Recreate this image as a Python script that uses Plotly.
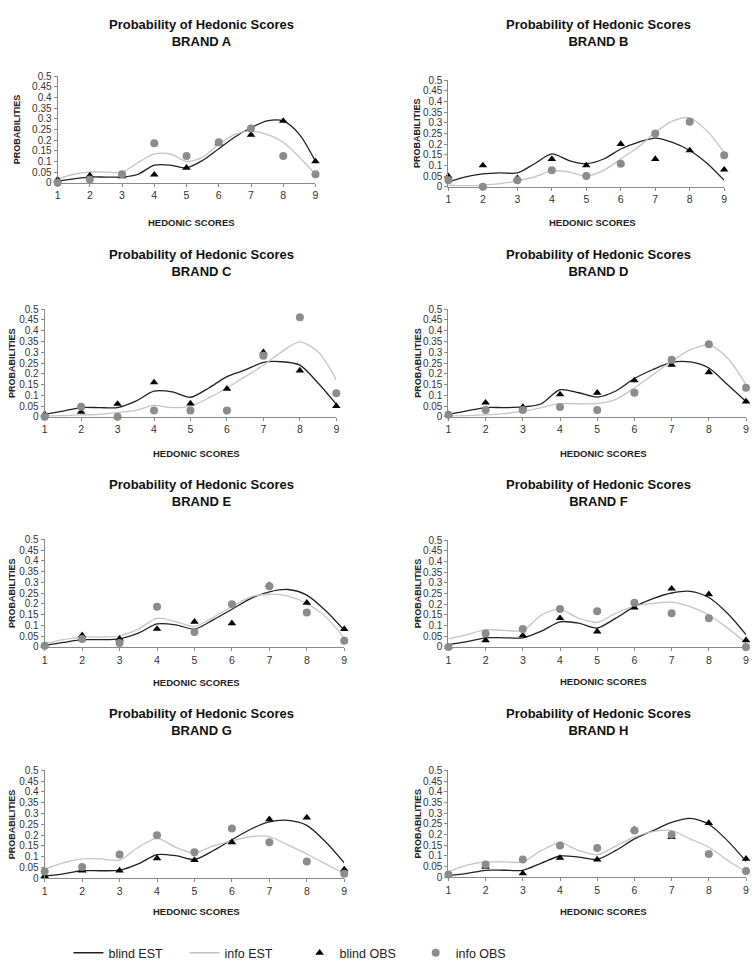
import plotly.graph_objects as go

W, H = 752, 971
scores = [1, 2, 3, 4, 5, 6, 7, 8, 9]
est_x = [1, 1.5, 2, 2.5, 3, 3.5, 4, 4.5, 5, 5.5, 6, 6.5, 7, 7.5, 8, 8.5, 9]
brands = ["A", "B", "C", "D", "E", "F", "G", "H"]

blind_obs_A = [0.015, 0.034, 0.03, 0.038, 0.07, 0.185, 0.225, 0.29, 0.10]
info_obs_A = [0.0, 0.015, 0.04, 0.185, 0.125, 0.19, 0.255, 0.125, 0.04]
blind_est_A = [0.008, 0.018, 0.027, 0.027, 0.027, 0.04, 0.083, 0.083, 0.07, 0.105, 0.16, 0.215, 0.258, 0.29, 0.29, 0.227, 0.10]
info_est_A = [0.018, 0.04, 0.05, 0.05, 0.05, 0.095, 0.135, 0.135, 0.10, 0.12, 0.18, 0.227, 0.242, 0.227, 0.19, 0.12, 0.04]

blind_obs_B = [0.049, 0.10, 0.04, 0.13, 0.10, 0.20, 0.13, 0.17, 0.08]
info_obs_B = [0.03, 0.0, 0.03, 0.077, 0.05, 0.108, 0.25, 0.305, 0.148]
blind_est_B = [0.023, 0.046, 0.06, 0.065, 0.065, 0.108, 0.154, 0.123, 0.108, 0.13, 0.177, 0.208, 0.228, 0.208, 0.17, 0.11, 0.03]
info_est_B = [0.008, 0.005, 0.008, 0.015, 0.028, 0.046, 0.074, 0.069, 0.05, 0.077, 0.13, 0.185, 0.254, 0.308, 0.323, 0.262, 0.16]

blind_obs_C = [0.012, 0.023, 0.06, 0.16, 0.062, 0.13, 0.30, 0.215, 0.05]
info_obs_C = [0.0, 0.047, 0.0, 0.03, 0.03, 0.03, 0.284, 0.463, 0.11]
blind_est_C = [0.012, 0.027, 0.043, 0.043, 0.043, 0.073, 0.119, 0.116, 0.091, 0.134, 0.187, 0.218, 0.253, 0.256, 0.24, 0.157, 0.058]
info_est_C = [0.005, 0.006, 0.009, 0.012, 0.02, 0.03, 0.053, 0.043, 0.05, 0.088, 0.134, 0.187, 0.24, 0.302, 0.348, 0.302, 0.172]

blind_obs_D = [0.012, 0.066, 0.046, 0.104, 0.112, 0.169, 0.242, 0.207, 0.071]
info_obs_D = [0.01, 0.032, 0.032, 0.046, 0.032, 0.112, 0.265, 0.337, 0.135]
blind_est_D = [0.012, 0.028, 0.043, 0.043, 0.046, 0.061, 0.126, 0.112, 0.092, 0.12, 0.178, 0.22, 0.253, 0.255, 0.227, 0.15, 0.071]
info_est_D = [0.005, 0.006, 0.009, 0.015, 0.025, 0.043, 0.061, 0.061, 0.061, 0.081, 0.135, 0.196, 0.258, 0.311, 0.334, 0.273, 0.15]

blind_obs_E = [0.006, 0.054, 0.038, 0.084, 0.117, 0.11, 0.287, 0.205, 0.083]
info_obs_E = [0.006, 0.037, 0.018, 0.187, 0.07, 0.198, 0.282, 0.16, 0.029]
blind_est_E = [0.006, 0.021, 0.034, 0.034, 0.038, 0.064, 0.107, 0.103, 0.083, 0.126, 0.175, 0.225, 0.256, 0.267, 0.241, 0.169, 0.077]
info_est_E = [0.015, 0.034, 0.046, 0.046, 0.052, 0.083, 0.133, 0.118, 0.095, 0.138, 0.187, 0.233, 0.245, 0.236, 0.202, 0.141, 0.041]

blind_obs_F = [0.0, 0.031, 0.054, 0.135, 0.072, 0.184, 0.273, 0.247, 0.031]
info_obs_F = [0.0, 0.063, 0.084, 0.178, 0.167, 0.207, 0.158, 0.135, 0.0]
blind_est_F = [0.011, 0.025, 0.043, 0.043, 0.043, 0.074, 0.118, 0.112, 0.089, 0.135, 0.189, 0.227, 0.253, 0.261, 0.232, 0.158, 0.058]
info_est_F = [0.038, 0.058, 0.081, 0.078, 0.077, 0.15, 0.176, 0.135, 0.115, 0.158, 0.192, 0.204, 0.21, 0.189, 0.15, 0.089, 0.02]

blind_obs_G = [0.009, 0.035, 0.035, 0.092, 0.084, 0.166, 0.273, 0.281, 0.04]
info_obs_G = [0.031, 0.051, 0.11, 0.199, 0.12, 0.23, 0.166, 0.077, 0.02]
blind_est_G = [0.009, 0.02, 0.034, 0.034, 0.037, 0.066, 0.109, 0.104, 0.086, 0.127, 0.178, 0.227, 0.261, 0.268, 0.245, 0.169, 0.071]
info_est_G = [0.043, 0.071, 0.089, 0.089, 0.084, 0.143, 0.184, 0.143, 0.117, 0.15, 0.173, 0.193, 0.193, 0.153, 0.112, 0.066, 0.02]

blind_obs_H = [0.006, 0.048, 0.017, 0.09, 0.082, 0.222, 0.187, 0.253, 0.086]
info_obs_H = [0.012, 0.059, 0.083, 0.148, 0.136, 0.218, 0.198, 0.108, 0.028]
blind_est_H = [0.006, 0.017, 0.032, 0.032, 0.032, 0.066, 0.099, 0.094, 0.083, 0.125, 0.179, 0.218, 0.256, 0.275, 0.248, 0.171, 0.074]
info_est_H = [0.025, 0.056, 0.071, 0.071, 0.071, 0.125, 0.16, 0.125, 0.105, 0.145, 0.187, 0.213, 0.218, 0.179, 0.14, 0.079, 0.025]

data = {
    "A": (blind_est_A, info_est_A, blind_obs_A, info_obs_A),
    "B": (blind_est_B, info_est_B, blind_obs_B, info_obs_B),
    "C": (blind_est_C, info_est_C, blind_obs_C, info_obs_C),
    "D": (blind_est_D, info_est_D, blind_obs_D, info_obs_D),
    "E": (blind_est_E, info_est_E, blind_obs_E, info_obs_E),
    "F": (blind_est_F, info_est_F, blind_obs_F, info_obs_F),
    "G": (blind_est_G, info_est_G, blind_obs_G, info_obs_G),
    "H": (blind_est_H, info_est_H, blind_obs_H, info_obs_H),
}

ytick_vals = [0, 0.05, 0.1, 0.15, 0.2, 0.25, 0.3, 0.35, 0.4, 0.45, 0.5]
ytick_text = ["0", "0.05", "0.1", "0.15", "0.2", "0.25", "0.3", "0.35", "0.4", "0.45", "0.5"]

# pixel boxes: (x0, x1, ytop, ybottom), title y, xtitle y, ytitle x, centre x
boxes = {
    "A": (55, 315, 71, 179, 22, 219, 15, 190),
    "B": (449, 727, 75, 183, 22, 219, 418, 594),
    "C": (42, 336, 307, 416, 255, 453, 9, 195),
    "D": (449, 749, 307, 416, 255, 453, 418, 605),
    "E": (42, 344, 540, 649, 488, 685, 9, 195),
    "F": (449, 749, 541, 649, 488, 684, 418, 605),
    "G": (42, 344, 774, 883, 720, 917, 9, 195),
    "H": (449, 749, 774, 882, 720, 917, 418, 605),
}
title_cx = {"A": 200, "B": 600, "C": 200, "D": 600, "E": 200, "F": 600, "G": 200, "H": 600}

FONT = "Liberation Sans, Arial, sans-serif"
legend_ids = ["legend", "legend2", "legend3", "legend4"]
legend_x = [66, 183, 299, 416]

fig = go.Figure()
annotations = []
for i, b in enumerate(brands):
    n = "" if i == 0 else str(i + 1)
    xa, ya = "x" + n, "y" + n
    be, ie, bo, io = data[b]
    first = i == 0
    fig.add_trace(go.Scatter(x=est_x, y=be, mode="lines", name="blind EST",
                             line=dict(color="#222222", width=1.3, shape="spline", smoothing=0.8),
                             xaxis=xa, yaxis=ya, showlegend=first, legend=legend_ids[0]))
    fig.add_trace(go.Scatter(x=est_x, y=ie, mode="lines", name="info EST",
                             line=dict(color="#c4c4c4", width=1.3, shape="spline", smoothing=0.8),
                             xaxis=xa, yaxis=ya, showlegend=first, legend=legend_ids[1]))
    fig.add_trace(go.Scatter(x=scores, y=bo, mode="markers", name="blind OBS",
                             marker=dict(symbol="triangle-up", color="black", size=7.5),
                             xaxis=xa, yaxis=ya, showlegend=first, legend=legend_ids[2], cliponaxis=False))
    fig.add_trace(go.Scatter(x=scores, y=io, mode="markers", name="info OBS",
                             marker=dict(symbol="circle", color="#8c8c8c", size=8),
                             xaxis=xa, yaxis=ya, showlegend=first, legend=legend_ids[3], cliponaxis=False))
    x0, x1, yt, yb, ty, xty, ytx, cx = boxes[b]
    fig.layout["xaxis" + n] = dict(domain=[x0 / W, x1 / W], range=[1, 9], anchor=ya,
                                   tickvals=scores, showgrid=False, zeroline=False,
                                   showline=True, linecolor="#8a8a8a", linewidth=1,
                                   ticks="outside", ticklen=3, tickcolor="#8a8a8a",
                                   tickfont=dict(size=10.5, color="#333", family=FONT))
    fig.layout["yaxis" + n] = dict(domain=[1 - yb / H, 1 - yt / H], range=[0, 0.5], anchor=xa,
                                   tickvals=ytick_vals, ticktext=ytick_text, showgrid=False,
                                   zeroline=False, showline=True, linecolor="#8a8a8a", linewidth=1,
                                   ticks="outside", ticklen=3, tickcolor="#8a8a8a",
                                   tickfont=dict(size=10, color="#333", family=FONT))
    annotations.append(dict(text="<b>Probability of Hedonic Scores</b><br><b>BRAND " + b + "</b>",
                            x=title_cx[b] / W, y=1 - (ty - 13) / H, xref="paper", yref="paper",
                            xanchor="center", yanchor="top", showarrow=False,
                            font=dict(size=13, color="#111", family=FONT)))
    annotations.append(dict(text="<b>HEDONIC SCORES</b>", x=cx / W, y=1 - xty / H,
                            xref="paper", yref="paper", xanchor="center", yanchor="middle",
                            showarrow=False, font=dict(size=9.5, color="#222", family=FONT)))
    annotations.append(dict(text="<b>PROBABILITIES</b>", x=ytx / W, y=1 - (yt + yb) / 2 / H,
                            xref="paper", yref="paper", xanchor="center", yanchor="middle",
                            textangle=-90, showarrow=False,
                            font=dict(size=9, color="#222", family=FONT)))

legend_common = dict(orientation="h", y=1 - 959 / H, xanchor="left", yanchor="middle",
                     itemwidth=30, font=dict(size=12.5, color="#222", family=FONT),
                     bgcolor="rgba(0,0,0,0)")
layout_legends = {}
for lid, lx in zip(legend_ids, legend_x):
    layout_legends[lid] = dict(legend_common, x=lx / W)

fig.update_layout(
    width=W, height=H, margin=dict(l=0, r=0, t=0, b=0),
    plot_bgcolor="white", paper_bgcolor="white",
    annotations=annotations,
    showlegend=True,
    **layout_legends,
)
fig.write_html("out.html")
